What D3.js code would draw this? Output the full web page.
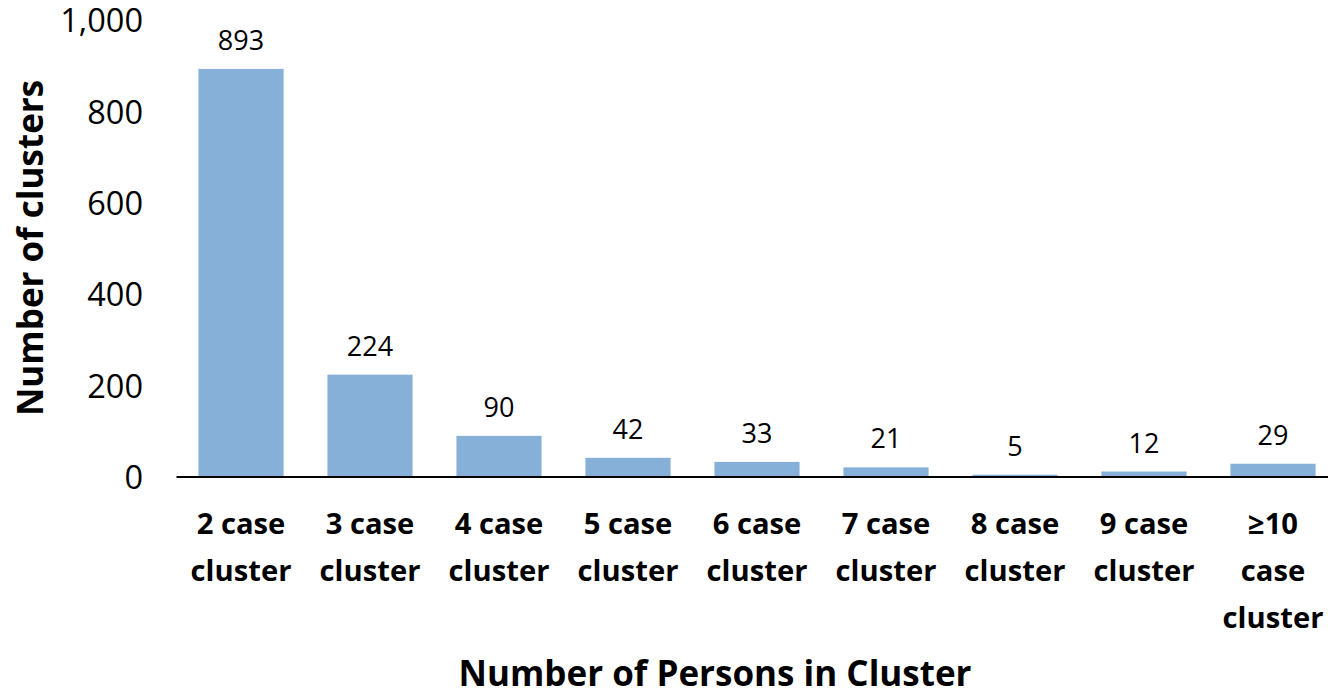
<!DOCTYPE html>
<html>
<head>
<meta charset="utf-8">
<script src="https://cdn.jsdelivr.net/npm/d3@7"></script>
<style>
  html, body { margin: 0; padding: 0; background: #fff; }
  svg { display: block; }
  text { font-family: "Open Sans", "DejaVu Sans", sans-serif; fill: #000; }
</style>
</head>
<body>
<svg id="chart" width="1328" height="696"></svg>
<script>
// Cluster size categories (each label is split into lines)
const categories = ["2 case cluster", "3 case cluster", "4 case cluster", "5 case cluster",
                    "6 case cluster", "7 case cluster", "8 case cluster", "9 case cluster",
                    "≥10 case cluster"];
const categoryLines = [["2 case", "cluster"], ["3 case", "cluster"], ["4 case", "cluster"],
                       ["5 case", "cluster"], ["6 case", "cluster"], ["7 case", "cluster"],
                       ["8 case", "cluster"], ["9 case", "cluster"], ["≥10", "case", "cluster"]];
const clusterCounts = [893, 224, 90, 42, 33, 21, 5, 12, 29];
const yTicks = [0, 200, 400, 600, 800, 1000];

const svg = d3.select("#chart");

const x = d3.scaleBand()
  .domain(categories)
  .range([176.5, 1337.5])
  .paddingInner(0.34)
  .paddingOuter(0.17);

const y = d3.scaleLinear()
  .domain([0, 1000])
  .range([477, 20]);

// Bars
svg.append("g")
  .selectAll("rect")
  .data(clusterCounts)
  .join("rect")
  .attr("x", (d, i) => x(categories[i]))
  .attr("y", d => y(d))
  .attr("width", x.bandwidth())
  .attr("height", d => y(0) - y(d))
  .attr("fill", "#86b0d8");

// Value labels above bars
svg.append("g")
  .selectAll("text")
  .data(clusterCounts)
  .join("text")
  .attr("x", (d, i) => x(categories[i]) + x.bandwidth() / 2)
  .attr("y", d => y(d) - 19)
  .attr("text-anchor", "middle")
  .attr("font-size", 27)
  .text(d => d);

// Y axis labels (no axis line, no ticks)
const yAxis = d3.axisLeft(y)
  .tickValues(yTicks)
  .tickFormat(d3.format(","))
  .tickSize(0)
  .tickPadding(0);
const yg = svg.append("g")
  .attr("transform", "translate(143,0)")
  .call(yAxis);
yg.select(".domain").remove();
yg.selectAll("text")
  .attr("font-size", 32.5)
  .attr("font-family", "Open Sans, sans-serif")
  .attr("fill", "#000")
  .attr("dy", "0.36em");

// Category axis: baseline and multi-line labels
const xAxis = d3.axisBottom(x).tickSize(0).tickFormat("");
const xg = svg.append("g")
  .attr("transform", `translate(0,${y(0)})`)
  .call(xAxis);
xg.select(".domain")
  .attr("d", `M176.5,0H1337.5`)
  .attr("stroke", "#000")
  .attr("stroke-width", 2.2);

const catLabels = svg.append("g")
  .selectAll("text")
  .data(categories)
  .join("text")
  .attr("x", d => x(d) + x.bandwidth() / 2)
  .attr("y", 534)
  .attr("text-anchor", "middle")
  .attr("font-size", 29.2)
  .attr("font-weight", "bold");
catLabels.each(function(d, i) {
  d3.select(this).selectAll("tspan")
    .data(categoryLines[i])
    .join("tspan")
    .attr("x", x(d) + x.bandwidth() / 2)
    .attr("dy", (t, j) => j === 0 ? 0 : 47)
    .text(t => t);
});

// Axis titles
svg.append("text")
  .attr("x", 715)
  .attr("y", 686)
  .attr("text-anchor", "middle")
  .attr("font-size", 35)
  .attr("font-weight", "bold")
  .text("Number of Persons in Cluster");

svg.append("text")
  .attr("transform", "translate(43,248) rotate(-90)")
  .attr("text-anchor", "middle")
  .attr("font-size", 35)
  .attr("font-weight", "bold")
  .text("Number of clusters");
</script>
</body>
</html>
